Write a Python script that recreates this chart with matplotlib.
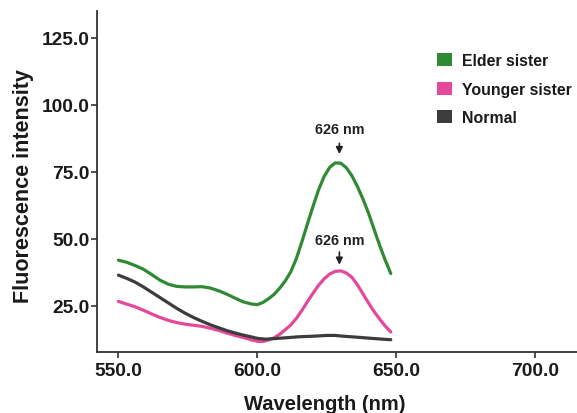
import matplotlib
matplotlib.use("Agg")
import matplotlib.pyplot as plt
from matplotlib.patches import Patch

plt.rcParams['font.family'] = ['Liberation Sans', 'DejaVu Sans']
plt.rcParams['font.weight'] = 'bold'

# Data
wl_elder = [550, 553, 556, 559, 562, 565, 568, 571, 574, 577, 580, 583, 586, 589,
            592, 595, 598, 600, 602, 604, 606, 608, 610, 612, 614, 616, 618, 620,
            622, 624, 626, 628, 630, 632, 634, 636, 638, 640, 642, 644, 646, 648]
elder = [42.0, 41.2, 40.0, 38.6, 36.6, 34.5, 33.0, 32.2, 32.0, 32.0, 32.1, 31.6,
         30.6, 29.3, 27.8, 26.4, 25.6, 25.4, 26.2, 27.6, 29.2, 31.5, 34.2, 37.6,
         42.5, 48.8, 55.5, 62.0, 68.2, 73.2, 76.6, 78.3, 78.2, 76.5, 73.5, 69.5,
         64.8, 59.5, 53.5, 47.5, 42.0, 37.0]

wl_younger = [550, 553, 556, 559, 562, 565, 568, 571, 574, 577, 580, 583, 586, 589,
              592, 595, 598, 600, 602, 604, 606, 608, 610, 612, 614, 616, 618, 620,
              622, 624, 626, 628, 630, 632, 634, 636, 638, 640, 642, 644, 646, 648]
younger = [26.6, 25.6, 24.6, 23.3, 21.9, 20.6, 19.5, 18.7, 18.1, 17.7, 17.3, 16.6,
           15.8, 14.8, 13.9, 13.1, 12.2, 11.7, 11.6, 12.2, 13.0, 14.3, 16.0, 17.8,
           20.2, 23.2, 26.5, 29.6, 32.6, 35.0, 36.8, 37.8, 38.0, 37.2, 35.6, 32.8,
           29.4, 26.0, 22.8, 20.0, 17.4, 15.2]

wl_normal = [550, 553, 556, 559, 562, 565, 568, 571, 574, 577, 580, 583, 586, 589,
             592, 595, 598, 600, 603, 606, 610, 615, 620, 625, 628, 631, 635, 640,
             645, 648]
normal = [36.4, 35.2, 33.8, 32.0, 30.0, 28.0, 26.0, 24.0, 22.2, 20.6, 19.2, 17.9,
          16.8, 15.7, 14.8, 14.0, 13.3, 12.8, 12.5, 12.7, 13.0, 13.4, 13.6, 13.9,
          13.9, 13.6, 13.3, 12.9, 12.5, 12.3]

series_names = ["Elder sister", "Younger sister", "Normal"]
colors = ["#2f8a33", "#e4489a", "#3c3c3c"]

peak_labels = ["626 nm", "626 nm"]
peak_x = [629.5, 629.5]
peak_tip_y = [81.6, 40.3]
peak_tail_y = [85.6, 45.0]
peak_text_y = [91.0, 49.4]

x_ticks = [550, 600, 650, 700]
y_ticks = [25, 50, 75, 100, 125]

fig = plt.figure(figsize=(5.77, 4.14), dpi=100)
ax = fig.add_axes([97 / 577, 1 - 353.3 / 414, 480 / 577, (353.3 - 12) / 414])

for wl, vals, c in zip([wl_elder, wl_younger, wl_normal],
                       [elder, younger, normal], colors):
    ax.plot(wl, vals, color=c, lw=2.3, solid_capstyle='round')

for lab, px, tip, tail, ty in zip(peak_labels, peak_x, peak_tip_y, peak_tail_y, peak_text_y):
    ax.annotate('', xy=(px, tip), xytext=(px, tail),
                arrowprops=dict(arrowstyle='-|>', color='#222222', lw=1.2,
                                shrinkA=0, shrinkB=0, mutation_scale=10))
    ax.text(px, ty, lab, ha='center', va='center', fontsize=10.4,
            fontweight='bold', color='#222222')

ax.set_xlim(542.3, 715)
ax.set_ylim(7.6, 135)
ax.set_xticks(x_ticks)
ax.set_yticks(y_ticks)
ax.set_xticklabels([f"{v:.1f}" for v in x_ticks])
ax.set_yticklabels([f"{v:.1f}" for v in y_ticks])

for s in ['top', 'right']:
    ax.spines[s].set_visible(False)
for s in ['left', 'bottom']:
    ax.spines[s].set_color('#333333')
    ax.spines[s].set_linewidth(1.3)

ax.tick_params(axis='both', direction='out', length=4, width=1.2, color='#333333',
               labelsize=13.8, labelcolor='#1a1a1a')
ax.tick_params(axis='y', pad=1.5)
ax.tick_params(axis='x', pad=3)
for lbl in ax.get_xticklabels() + ax.get_yticklabels():
    lbl.set_fontweight('bold')

ax.set_xlabel("Wavelength (nm)", fontsize=14.5, fontweight='bold', color='#1a1a1a')
ax.set_ylabel("Fluorescence intensity", fontsize=15.5, fontweight='bold', color='#1a1a1a')
ax.xaxis.set_label_coords(0.475, -0.151)
ax.yaxis.set_label_coords(-0.154, 0.489)
ax.xaxis.label.set_va('center')
ax.yaxis.label.set_va('center')

handles = [Patch(facecolor=c, edgecolor='none', label=n) for c, n in zip(colors, series_names)]
leg = fig.legend(handles=handles, loc='upper left', bbox_to_anchor=(437.3 / 577, 1 - 54 / 414),
                 frameon=False, fontsize=11.4, handlelength=0.95, handleheight=0.9,
                 handletextpad=0.6, labelspacing=0.86, borderpad=0, borderaxespad=0)
for t in leg.get_texts():
    t.set_fontweight('bold')
    t.set_color('#1a1a1a')

fig.savefig("out.png", dpi=100)
